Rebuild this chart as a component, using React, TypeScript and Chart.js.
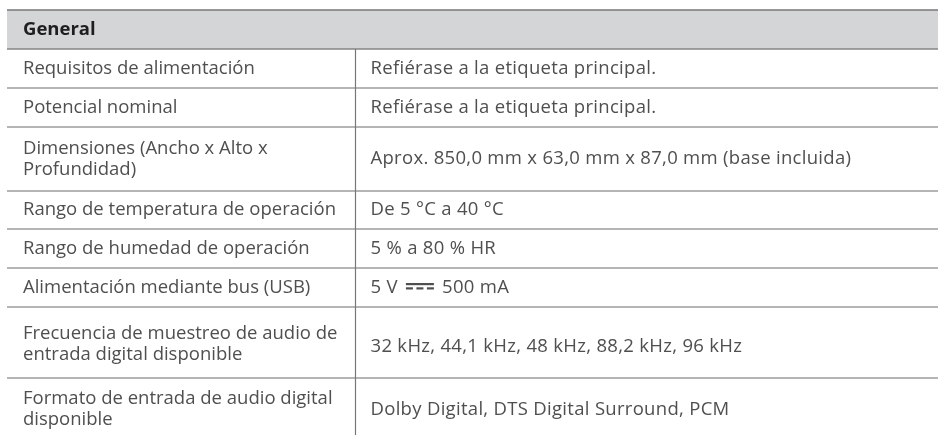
import React, { useEffect, useRef } from "react";
import { Chart, registerables } from "chart.js";

Chart.register(...registerables);

// ---- data ----
const sectionTitle = "General";
const specNames: string[] = [
  "Requisitos de alimentación",
  "Potencial nominal",
  "Dimensiones (Ancho x Alto x\nProfundidad)",
  "Rango de temperatura de operación",
  "Rango de humedad de operación",
  "Alimentación mediante bus (USB)",
  "Frecuencia de muestreo de audio de\nentrada digital disponible",
  "Formato de entrada de audio digital\ndisponible",
];
const specValues: string[] = [
  "Refiérase a la etiqueta principal.",
  "Refiérase a la etiqueta principal.",
  "Aprox. 850,0 mm x 63,0 mm x 87,0 mm (base incluida)",
  "De 5 °C a 40 °C",
  "5 % a 80 % HR",
  "5 V ⎓ 500 mA",
  "32 kHz, 44,1 kHz, 48 kHz, 88,2 kHz, 96 kHz",
  "Dolby Digital, DTS Digital Surround, PCM",
];
const DC_SYMBOL = "⎓";

// ---- layout (pixel units of the scales) ----
const W = 938;
const H = 435;
const tableLeft = 7;
const tableRight = 938;
const dividerX = 355.5;
const headerTop = 10;
const rowEdges = [49, 88, 127, 191, 229, 268, 307, 378, 442];
const nameNudge = [0, 0, 0, 0, 0, 0, 1.5, -1];
const valueNudge = [0, 0, 0, 0, 0, 0, 4, 0];
const FONT = '"Open Sans", "Noto Sans", sans-serif';
const FONT_SIZE = 18.5;
const LINE_H = 21;

const tablePlugin = {
  id: "specTable",
  afterDraw(chart: any) {
    const ctx = chart.ctx as CanvasRenderingContext2D;
    const xs = chart.scales.x;
    const ys = chart.scales.y;
    const px = (v: number) => xs.getPixelForValue(v);
    const py = (v: number) => ys.getPixelForValue(v);
    ctx.save();
    // header
    ctx.fillStyle = "#d4d5d7";
    ctx.fillRect(px(tableLeft), py(headerTop), px(tableRight) - px(tableLeft), py(rowEdges[0]) - py(headerTop));
    ctx.fillStyle = "#1e1e1e";
    ctx.font = `bold ${FONT_SIZE}px ${FONT}`;
    ctx.textBaseline = "middle";
    ctx.fillText(sectionTitle, px(tableLeft + 16), py((headerTop + rowEdges[0]) / 2));

    // lines
    const hline = (y: number, color: string, w: number) => {
      ctx.strokeStyle = color;
      ctx.lineWidth = w;
      ctx.beginPath();
      ctx.moveTo(px(tableLeft), py(y));
      ctx.lineTo(px(tableRight), py(y));
      ctx.stroke();
    };
    hline(headerTop, "#767676", 1.6);
    hline(rowEdges[0], "#858585", 1.5);
    for (let i = 1; i < rowEdges.length - 1; i++) hline(rowEdges[i], "#9c9c9c", 1.6);
    ctx.strokeStyle = "#777";
    ctx.lineWidth = 1.2;
    ctx.beginPath();
    ctx.moveTo(px(dividerX), py(rowEdges[0]));
    ctx.lineTo(px(dividerX), py(H));
    ctx.stroke();

    // text
    ctx.fillStyle = "#4f4f4f";
    specNames.forEach((name, i) => {
      const top = rowEdges[i];
      const bot = rowEdges[i + 1];
      const mid = (top + bot) / 2;
      ctx.font = `${FONT_SIZE}px ${FONT}`;
      (ctx as any).letterSpacing = "0px";
      const lines = name.split("\n");
      const start = mid + nameNudge[i] - ((lines.length - 1) * LINE_H) / 2;
      lines.forEach((ln, k) => {
        ctx.fillText(ln, px(tableLeft + 16), py(start + k * LINE_H));
      });
      (ctx as any).letterSpacing = "0.3px";
      const vy = mid + valueNudge[i];
      const val = specValues[i];
      const vx = dividerX + 15;
      if (val.includes(DC_SYMBOL)) {
        const [a, b] = val.split(DC_SYMBOL);
        ctx.fillText(a, px(vx), py(vy));
        const sx = vx + ctx.measureText(a).width + 3;
        const sw = 28;
        // solid bar over dashed bar (DC symbol)
        ctx.fillRect(px(sx), py(vy - 4.5), sw, 2.2);
        const dash = 7;
        const gap = (sw - 3 * dash) / 2;
        for (let d = 0; d < 3; d++) {
          ctx.fillRect(px(sx + d * (dash + gap)), py(vy - 0.2), dash, 2.2);
        }
        ctx.fillText(b, px(sx + sw + 3), py(vy));
      } else {
        ctx.fillText(val, px(vx), py(vy));
      }
    });
    ctx.restore();
  },
};

export default function App() {
  const ref = useRef<HTMLCanvasElement | null>(null);
  useEffect(() => {
    if (!ref.current) return;
    const chart = new Chart(ref.current, {
      type: "scatter",
      data: { datasets: [] },
      options: {
        animation: false,
        responsive: true,
        maintainAspectRatio: false,
        layout: { padding: 0 },
        plugins: { legend: { display: false }, tooltip: { enabled: false } },
        scales: {
          x: { type: "linear", min: 0, max: W, display: false },
          y: { type: "linear", min: 0, max: H, reverse: true, display: false },
        },
      },
      plugins: [tablePlugin],
    });
    return () => chart.destroy();
  }, []);
  return (
    <div style={{ position: "absolute", left: 0, top: 0, width: W, height: H, background: "#fff" }}>
      <canvas ref={ref} />
    </div>
  );
}
